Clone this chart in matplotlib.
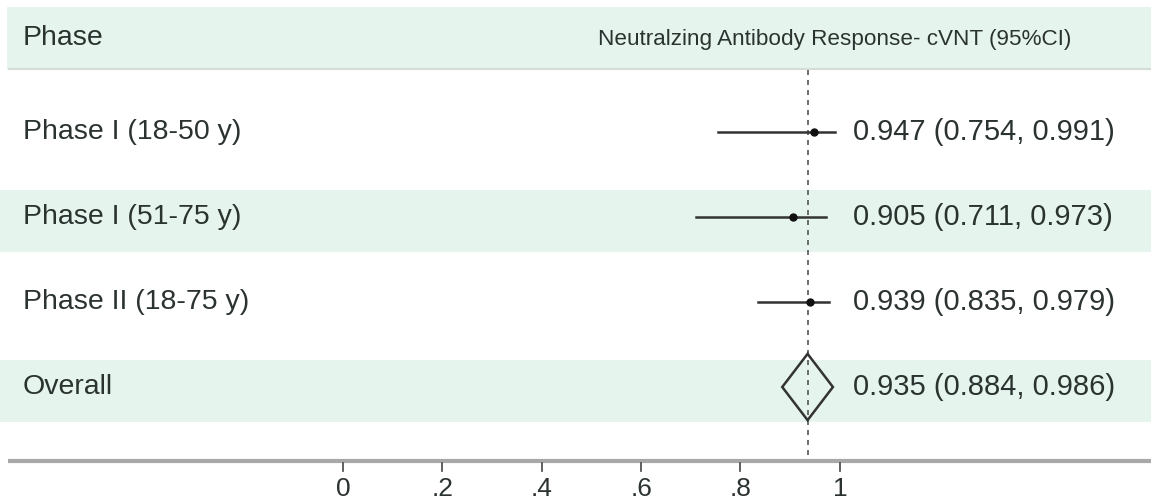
import matplotlib
matplotlib.use("Agg")
import matplotlib.pyplot as plt
from matplotlib.patches import Polygon, Rectangle

# ---- data ----
labels = ["Phase I (18-50 y)", "Phase I (51-75 y)", "Phase II (18-75 y)"]
est = [0.947, 0.905, 0.939]
lo = [0.754, 0.711, 0.835]
hi = [0.991, 0.973, 0.979]
overall_label = "Overall"
overall_est = 0.935
overall_lo = 0.884
overall_hi = 0.986
header_left = "Phase"
header_right = "Neutralzing Antibody Response- cVNT (95%CI)"
xticks = [0, 0.2, 0.4, 0.6, 0.8, 1.0]
xticklabels = ["0", ".2", ".4", ".6", ".8", "1"]

plt.rcParams['font.family'] = ['Liberation Sans', 'DejaVu Sans']
band = "#e5f5ee"
txt = "#2b3330"
linec = "#333333"

fig = plt.figure(figsize=(11.51, 5.01), dpi=100)
ax = fig.add_axes([0, 0, 1, 1])
xmin, xmax = -0.690, 1.626
ax.set_xlim(xmin, xmax)
ax.set_ylim(5.341, -0.553)
ax.axis("off")

xl_left = xmin + 23 / 497.0
x_text = 0.0 + (853 - 343) / 497.0

# header band
ax.add_patch(Rectangle((xmin + 7 / 497.0, -0.471), xmax - xmin, 0.73,
                       facecolor=band, edgecolor="none", zorder=0))
ax.plot([xmin + 9 / 497.0, xmax], [0.262, 0.262], color="#d5dcd8", lw=1.5, zorder=0)
ax.text(xl_left, -0.106, header_left, fontsize=20.5, color=txt, va="center", ha="left")
ax.text(xmin + 598 / 497.0, -0.09, header_right, fontsize=16.2, color=txt,
        va="center", ha="left")

rows = list(range(1, len(labels) + 1))
all_labels = labels + [overall_label]
all_rows = rows + [len(labels) + 1]
for i, (r, lab) in enumerate(zip(all_rows, all_labels)):
    if i % 2 == 1:
        ax.add_patch(Rectangle((xmin, r - 0.32), xmax - xmin, 0.73,
                               facecolor=band, edgecolor="none", zorder=0))
    ax.text(xl_left, r, lab, fontsize=20.5, color=txt, va="center", ha="left")

for r, e, l, h in zip(rows, est, lo, hi):
    ax.plot([l, h], [r, r], color=linec, lw=1.8, zorder=3)
    ax.plot([e], [r], marker="o", ms=5, color="#111111", zorder=4)
    ax.text(x_text, r, f"{e:.3f} ({l:.3f}, {h:.3f})", fontsize=21,
            color=txt, va="center", ha="left")

ro = len(labels) + 1
dia = Polygon([[overall_lo, ro], [overall_est, ro - 0.39], [overall_hi, ro],
               [overall_est, ro + 0.39]], closed=True, facecolor="none",
              edgecolor=linec, lw=1.8, zorder=4)
ax.add_patch(dia)
ax.text(x_text, ro, f"{overall_est:.3f} ({overall_lo:.3f}, {overall_hi:.3f})",
        fontsize=21, color=txt, va="center", ha="left")

# reference dashed line
ax.plot([overall_est, overall_est], [0.27, 4.87], color="#555555", lw=1.2,
        ls=(0, (3, 3)), zorder=2)

# x axis
ya = 4.87
ax.plot([xmin + 8 / 497.0, xmax], [ya, ya], color="#a8a8a8", lw=3, zorder=2,
        solid_capstyle="butt")
for t, tl in zip(xticks, xticklabels):
    ax.plot([t, t], [ya + 0.02, ya + 0.12], color="#444444", lw=1.2, zorder=2)
    ax.text(t, ya + 0.33, tl, fontsize=19, color=txt, ha="center", va="center")

fig.savefig("out.png", dpi=100)
